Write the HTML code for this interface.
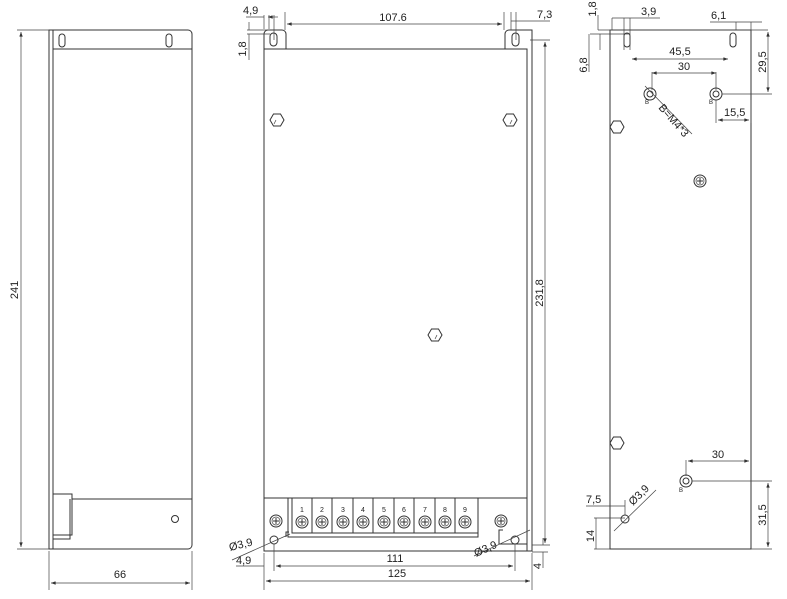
<!DOCTYPE html>
<html><head><style>
html,body{margin:0;padding:0;background:#fff;}
svg{display:block;}
text{font-family:"Liberation Sans",sans-serif;fill:#222;font-size:11px;}
.l{stroke:#333;stroke-width:1;fill:none;}
.t{stroke:#444;stroke-width:0.7;fill:none;}
</style></head><body>
<svg width="787" height="599" viewBox="0 0 787 599" xmlns="http://www.w3.org/2000/svg">
<defs>
<marker id="a" viewBox="0 0 8 6" refX="8" refY="3" markerWidth="7" markerHeight="5" orient="auto-start-reverse"><path d="M0,0 L8,3 L0,6 z" fill="#333"/></marker>
<g id="hex"><polygon points="-7,0 -3.5,-6 3.5,-6 7,0 3.5,6 -3.5,6" class="l"/></g>
<g id="scr"><circle r="6" class="l"/><circle r="4" class="t"/><path d="M-3,0H3M0,-3V3" class="l"/></g>
<g id="hb"><circle r="6" class="l" stroke-width="1.5"/><circle r="3" class="l"/></g>
</defs>

<!-- LEFT VIEW -->
<path class="l" d="M49,30V549H188a4,4 0 0 0 4-4V34a4,4 0 0 0-4-4Z"/>
<path class="l" d="M53,30V549M53,49H192"/>
<rect x="59" y="34" width="6" height="13" rx="3" class="l"/>
<rect x="166" y="34" width="6" height="13" rx="3" class="l"/>
<path class="l" d="M53,494H72V499H192M72,499V535H53M53,539H70V535M70,499V535"/>
<circle cx="175" cy="519" r="3.5" class="l"/>
<path class="t" d="M17,30H49M17,549H49M49,551V590M192,551V590"/>
<line x1="21" y1="32" x2="21" y2="547" class="t" marker-start="url(#a)" marker-end="url(#a)"/>
<text transform="translate(18,290) rotate(-90)" text-anchor="middle">241</text>
<line x1="51" y1="583" x2="190" y2="583" class="t" marker-start="url(#a)" marker-end="url(#a)"/>
<text x="120" y="578" text-anchor="middle">66</text>

<!-- MIDDLE VIEW -->
<path class="l" d="M264,49V551H527V49Z"/>
<path class="l" d="M264,49V34a4,4 0 0 1 4-4H282a4,4 0 0 1 4,4V49"/>
<path class="l" d="M505,49V34a4,4 0 0 1 4-4H532V551H527M532,551V545"/>
<rect x="270" y="33" width="7" height="13" rx="3.5" class="l"/>
<rect x="512" y="33" width="7" height="13" rx="3.5" class="l"/>
<path class="l" d="M264,498H527"/>
<path class="l" d="M288,498V537H478V498M292,498V533H478"/>
<path class="l" d="M312,498V533M332,498V533M353,498V533M373,498V533M394,498V533M414,498V533M435,498V533M455,498V533"/>
<g>
<use href="#scr" x="302" y="522"/><use href="#scr" x="322" y="522"/><use href="#scr" x="343" y="522"/>
<use href="#scr" x="363" y="522"/><use href="#scr" x="384" y="522"/><use href="#scr" x="404" y="522"/>
<use href="#scr" x="425" y="522"/><use href="#scr" x="445" y="522"/><use href="#scr" x="465" y="522"/>
</g>
<g text-anchor="middle">
<text x="302" y="512" style="font-size:7px">1</text><text x="322" y="512" style="font-size:7px">2</text><text x="343" y="512" style="font-size:7px">3</text>
<text x="363" y="512" style="font-size:7px">4</text><text x="384" y="512" style="font-size:7px">5</text><text x="404" y="512" style="font-size:7px">6</text>
<text x="425" y="512" style="font-size:7px">7</text><text x="445" y="512" style="font-size:7px">8</text><text x="465" y="512" style="font-size:7px">9</text>
</g>
<use href="#scr" x="276" y="521"/><use href="#scr" x="501" y="521"/>
<circle cx="274" cy="540" r="4" class="l"/><circle cx="515" cy="540" r="4" class="l"/>
<path class="l" d="M286,537V532H289M499,544V530H503M499,544H527"/>
<use href="#hex" x="277" y="120"/>
<use href="#hex" x="510" y="120"/>
<use href="#hex" x="435" y="335"/>
<path class="t" d="M274,124 l2,-4 M510,124 l2,-4 M435,339 l2,-4"/>
<!-- dims -->
<path class="t" d="M264,29V15M269,29V15M274,40V15M285,12V30M504,12V30M511,12V30M516,40V12M530,40H550M532,545H550M264,553V590M274,544V571M515,544V571M532,553V590"/>
<line x1="246" y1="17" x2="264" y2="17" class="t"/>
<line x1="268" y1="17" x2="278" y2="17" class="t" marker-start="url(#a)"/>
<text x="243" y="14">4,9</text>
<line x1="287" y1="24" x2="502" y2="24" class="t" marker-start="url(#a)" marker-end="url(#a)"/>
<text x="393" y="21" text-anchor="middle">107.6</text>
<line x1="511" y1="21" x2="550" y2="21" class="t"/>
<text x="537" y="18">7,3</text>
<path class="t" d="M247,30H270M247,34H270M249,22V30M249,34V60"/>
<text transform="translate(246,49) rotate(-90)" text-anchor="middle">1,8</text>
<line x1="545" y1="42" x2="545" y2="543" class="t" marker-start="url(#a)" marker-end="url(#a)"/>
<text transform="translate(543,293) rotate(-90)" text-anchor="middle">231,8</text>
<path class="t" d="M532,552H548M543,538V545M543,552V568"/>
<text transform="translate(541,566) rotate(-90)" text-anchor="middle">4</text>
<line x1="276" y1="566" x2="513" y2="566" class="t" marker-start="url(#a)" marker-end="url(#a)"/>
<text x="395" y="562" text-anchor="middle">111</text>
<line x1="266" y1="581" x2="530" y2="581" class="t" marker-start="url(#a)" marker-end="url(#a)"/>
<text x="397" y="577" text-anchor="middle">125</text>
<path class="t" d="M232,560L290,534M236,566H264M474,556L530,530"/>
<text x="230" y="551" transform="rotate(-14,230,551)">Ø3,9</text>
<text x="236" y="564">4,9</text>
<text x="476" y="557" transform="rotate(-24,476,557)">Ø3,9</text>

<!-- RIGHT VIEW -->
<path class="l" d="M610,30V549H751V30Z"/>
<rect x="624" y="33" width="6" height="14" rx="3" class="l"/>
<rect x="730" y="33" width="6" height="14" rx="3" class="l"/>
<use href="#hb" x="650" y="94"/><use href="#hb" x="716" y="94"/><use href="#hb" x="686" y="481"/>
<text x="645" y="104" style="font-size:6px">B</text><text x="709" y="104" style="font-size:6px">B</text><text x="679" y="492" style="font-size:6px">B</text>
<use href="#hex" x="617" y="127"/><use href="#hex" x="617" y="443"/>
<use href="#scr" x="700" y="181"/>
<circle cx="625" cy="519" r="4" class="l"/>
<!-- dims right -->
<path class="t" d="M598,30H768M590,34H630M598,15V30M600,34V50M612,18V30M624,18V50M630,18V50"/>
<text transform="translate(596,9) rotate(-90)" text-anchor="middle">1,8</text>
<line x1="612" y1="18" x2="660" y2="18" class="t"/>
<text x="641" y="15">3,9</text>
<line x1="589" y1="34" x2="589" y2="72" class="t"/>
<text transform="translate(587,65) rotate(-90)" text-anchor="middle">6,8</text>
<path class="t" d="M710,22H762M736,22V30M751,22V30"/>
<text x="711" y="19">6,1</text>
<line x1="632" y1="59" x2="728" y2="59" class="t" marker-start="url(#a)" marker-end="url(#a)"/>
<text x="680" y="55" text-anchor="middle">45,5</text>
<path class="t" d="M652,72V90M716,72V90"/>
<line x1="652" y1="73" x2="716" y2="73" class="t" marker-start="url(#a)" marker-end="url(#a)"/>
<text x="684" y="70" text-anchor="middle">30</text>
<path class="t" d="M722,94H772"/>
<line x1="768" y1="32" x2="768" y2="92" class="t" marker-start="url(#a)" marker-end="url(#a)"/>
<text transform="translate(766,62) rotate(-90)" text-anchor="middle">29,5</text>
<path class="t" d="M716,100V123M751,100V123"/>
<line x1="718" y1="120" x2="749" y2="120" class="t" marker-start="url(#a)" marker-end="url(#a)"/>
<text x="724" y="116">15,5</text>
<path class="t" d="M645,86L692,134"/>
<text x="658" y="108" transform="rotate(49,658,108)">B=M4*3</text>
<path class="t" d="M686,460V476"/>
<line x1="688" y1="461" x2="749" y2="461" class="t" marker-start="url(#a)" marker-end="url(#a)"/>
<text x="718" y="458" text-anchor="middle">30</text>
<path class="t" d="M692,481H772M751,549H772"/>
<line x1="768" y1="483" x2="768" y2="547" class="t" marker-start="url(#a)" marker-end="url(#a)"/>
<text transform="translate(766,515) rotate(-90)" text-anchor="middle">31,5</text>
<path class="t" d="M586,506H625M625,500V515M594,518H625M596,518V549M594,549H610"/>
<text x="586" y="503">7,5</text>
<text transform="translate(594,536) rotate(-90)" text-anchor="middle">14</text>
<path class="t" d="M614,531L656,490"/>
<text x="633" y="506" transform="rotate(-45,633,506)">Ø3,9</text>
</svg>
</body></html>
